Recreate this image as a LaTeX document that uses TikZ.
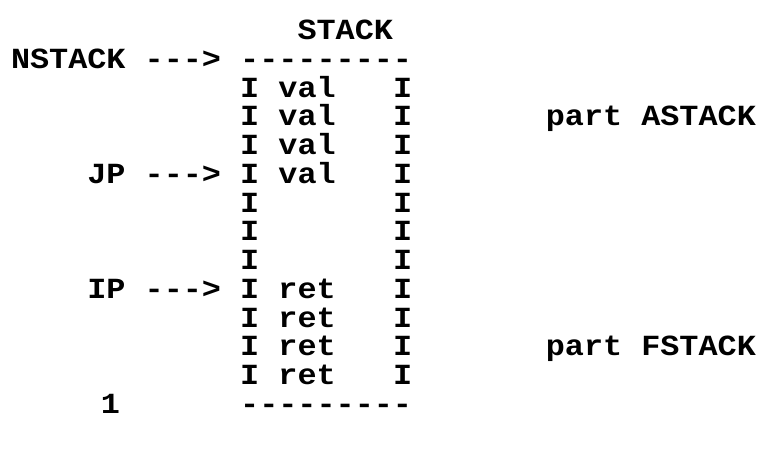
\documentclass[tikz,border=0pt]{standalone}
\usepackage{fontspec}
\setmonofont{Liberation Mono}[FakeStretch=1.09]
\tikzset{
  txt/.style={anchor=base west, inner sep=0pt, outer sep=0pt,
    font=\ttfamily\bfseries\fontsize{29.2}{30}\selectfont}
}
\begin{document}
\begin{tikzpicture}
\useasboundingbox (0,0) rectangle (767pt,-448pt);
\begin{scope}[shift={(11pt,-68.3pt)}, x=19.1pt, y=-28.75pt]
  \node[txt] (stack) at (15,-1) {STACK};
  \node[txt] (nstack) at (0,0) {NSTACK};
  \node[txt] (narr) at (7,0) {--->};
  \node[txt] (top) at (12,0) {---------};
  \foreach \i in {1,...,11} {
    \node[txt] (l\i) at (12,\i) {I};
    \node[txt] (r\i) at (20,\i) {I};
  }
  \foreach \i in {1,...,4} {
    \node[txt] (v\i) at (14,\i) {val};
  }
  \foreach \i in {8,...,11} {
    \node[txt] (t\i) at (14,\i) {ret};
  }
  \node[txt] (jp) at (4,4) {JP};
  \node[txt] (jparr) at (7,4) {--->};
  \node[txt] (ip) at (4,8) {IP};
  \node[txt] (iparr) at (7,8) {--->};
  \node[txt] (pa) at (28,2) {part ASTACK};
  \node[txt] (pf) at (28,10) {part FSTACK};
  \node[txt] (one) at (4.7,12) {1};
  \node[txt] (bot) at (12,12) {---------};
\end{scope}
\end{tikzpicture}
\end{document}
